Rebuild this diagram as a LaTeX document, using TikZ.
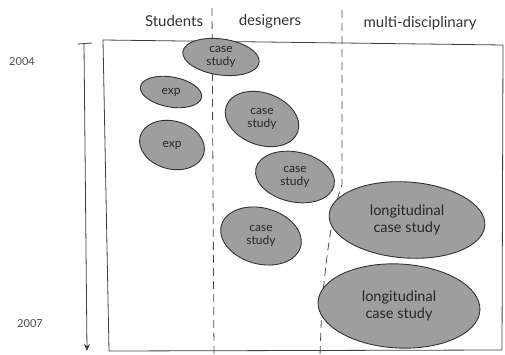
\documentclass[tikz,border=0pt]{standalone}
\usepackage{fontspec}
\setmainfont{Lato}
\usetikzlibrary{shapes.geometric,arrows.meta}
\begin{document}
\begin{tikzpicture}[x=1pt,y=-1pt,
  ink/.style={draw=black!75, line width=0.8pt},
  divider/.style={draw=black!70, line width=0.8pt, dash pattern=on 8pt off 5pt},
  blob/.style={ellipse, draw=black!80, line width=0.9pt, fill=black!38, inner sep=0pt},
  tag/.style={align=center, text=black!85, inner sep=0pt,
    font=\fontsize{12}{13}\selectfont},
  bigtag/.style={tag, font=\fontsize{14.5}{17}\selectfont},
  head/.style={text=black!80, font=\fontsize{15}{16}\selectfont, inner sep=0pt},
  year/.style={text=black!70, font=\fontsize{11}{12}\selectfont, inner sep=0pt}]
\useasboundingbox (0,0) rectangle (505,355);

% column headings
\node[head] (hs) at (174,21) {Students};
\node[head] (hd) at (270,21) {designers};
\node[head] (hm) at (420,23) {multi-disciplinary};

% years
\node[year] (y1) at (22,62) {2004};
\node[year] (y2) at (30,324) {2007};

% time axis
\coordinate (t0) at (84,44);
\coordinate (t1) at (87,351);
\coordinate (c0) at (78,44);
\coordinate (c1) at (92,43);
\draw[ink] (c0) -- (c1);
\draw[ink, -{Stealth[length=7pt,width=6pt]}] (t0) -- (t1);

% frame
\coordinate (f1) at (103,40);
\coordinate (f2) at (503,45);
\coordinate (f3) at (502,350);
\coordinate (f4) at (109,351);
\draw[ink] (f1) -- (f2) -- (f3) -- (f4) -- cycle;

% column dividers
\coordinate (d1a) at (212,8);
\coordinate (d1b) at (214,355);
\draw[divider] (d1a) -- (d1b);
\coordinate (d2a) at (342,10);
\coordinate (d2b) at (342,185);
\coordinate (d2c) at (326,265);
\coordinate (d2d) at (320,355);
\draw[divider] (d2a) -- (d2b) .. controls (336,200) and (330,230) .. (d2c)
  .. controls (322,300) .. (d2d);

% studies: tilted ellipses with upright labels
\node[blob, minimum width=77, minimum height=36, rotate=-8] (e1) at (221,57) {};
\node[blob, minimum width=62, minimum height=30, rotate=-10] (e2) at (171,92) {};
\node[blob, minimum width=66, minimum height=48, rotate=-15] (e3) at (172,145) {};
\node[blob, minimum width=76, minimum height=52, rotate=-20] (e4) at (262,119) {};
\node[blob, minimum width=80, minimum height=50, rotate=-12] (e5) at (295,177) {};
\node[blob, minimum width=82, minimum height=56, rotate=-15] (e6) at (261,236) {};
\node[blob, minimum width=156, minimum height=76, rotate=-4] (e7) at (407,220) {};
\node[blob, minimum width=162, minimum height=84, rotate=-3] (e8) at (399,306) {};

\node[tag] (l1) at (e1) {case\\study};
\node[tag] (l2) at (e2) {exp};
\node[tag] (l3) at (e3) {exp};
\node[tag] (l4) at (e4) {case\\study};
\node[tag] (l5) at (e5) {case\\study};
\node[tag] (l6) at (e6) {case\\study};
\node[bigtag] (l7) at (e7) {longitudinal\\case study};
\node[bigtag] (l8) at (e8) {longitudinal\\case study};
\end{tikzpicture}
\end{document}
